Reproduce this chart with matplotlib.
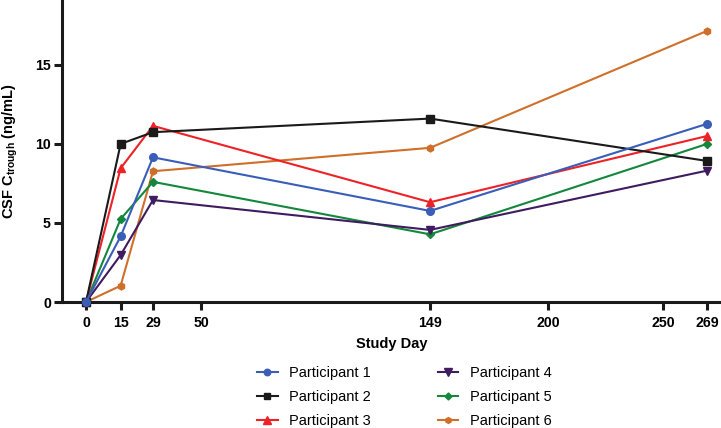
import matplotlib
matplotlib.use("Agg")
import matplotlib.pyplot as plt

# Study days and CSF trough concentrations (ng/mL)
days = [0, 15, 29, 149, 269]
p1 = [0, 4.15, 9.15, 5.76, 11.27]
p2 = [0, 10.0, 10.74, 11.6, 8.92]
p3 = [0, 8.46, 11.14, 6.31, 10.5]
p4 = [0, 2.97, 6.45, 4.56, 8.31]
p5 = [0, 5.25, 7.6, 4.28, 10.0]
p6 = [0, 1.03, 8.27, 9.75, 17.15]

labels = ["Participant 1", "Participant 2", "Participant 3",
          "Participant 4", "Participant 5", "Participant 6"]
xticks = [0, 15, 29, 50, 149, 200, 250, 269]
yticks = [0, 5, 10, 15]

plt.rcParams['font.family'] = ['Liberation Sans', 'DejaVu Sans']
plt.rcParams['mathtext.fontset'] = 'custom'
plt.rcParams['mathtext.rm'] = 'Liberation Sans'
plt.rcParams['mathtext.bf'] = 'Liberation Sans:bold'

fig = plt.figure(figsize=(7.21, 4.28), dpi=100)
ax = fig.add_axes([62 / 721, 126 / 428, 659 / 721, 302 / 428])

series = [p1, p2, p3, p4, p5, p6]
colors = ['#3a5db8', '#1a1a1a', '#ee2226', '#3f1c60', '#13873c', '#cf6f2a']
markers = ['o', 's', '^', 'v', 'D', 'h']
sizes = [5.5, 5.5, 6, 6, 4.2, 5]

# draw in reverse so participant 1 sits on top at day 0
handles = {}
for i in reversed(range(6)):
    h, = ax.plot(days, series[i], color=colors[i], marker=markers[i],
                 markersize=sizes[i], linewidth=1.5, label=labels[i],
                 clip_on=False, zorder=3 + (6 - i))
    handles[i] = h

ax.set_xlim(-10.4, 275)
ax.set_ylim(0, 19.1)
ax.set_xticks(xticks)
ax.set_yticks(yticks)
ax.set_xticklabels([str(x) for x in xticks], fontweight='bold', fontsize=10.2)
ax.set_yticklabels([str(y) for y in yticks], fontweight='bold', fontsize=10.2)

for side in ['top', 'right']:
    ax.spines[side].set_visible(False)
for side in ['left', 'bottom']:
    ax.spines[side].set_linewidth(2.2)
    ax.spines[side].set_color('#1a1a1a')
ax.tick_params(axis='both', width=2.2, length=6, color='#1a1a1a', pad=2)
ax.tick_params(axis='x', pad=4)

ax.set_xlabel("Study Day", fontweight='bold', fontsize=10.5, labelpad=5)
ax.set_ylabel(r"CSF C$_\mathbf{trough}$ (ng/mL)", fontweight='bold',
              fontsize=10.5)
ax.yaxis.set_label_coords((20 - 62) / 659, 0.5)

order = [0, 1, 2, 3, 4, 5]
fig.legend([handles[i] for i in order], [labels[i] for i in order],
           ncol=2, loc='upper left', bbox_to_anchor=(244 / 721, 1 - 353 / 428),
           frameon=False, fontsize=10.5, handlelength=1.4, handletextpad=0.8,
           columnspacing=4.6, labelspacing=0.69, markerscale=0.85)

fig.savefig("out.png", dpi=100)
